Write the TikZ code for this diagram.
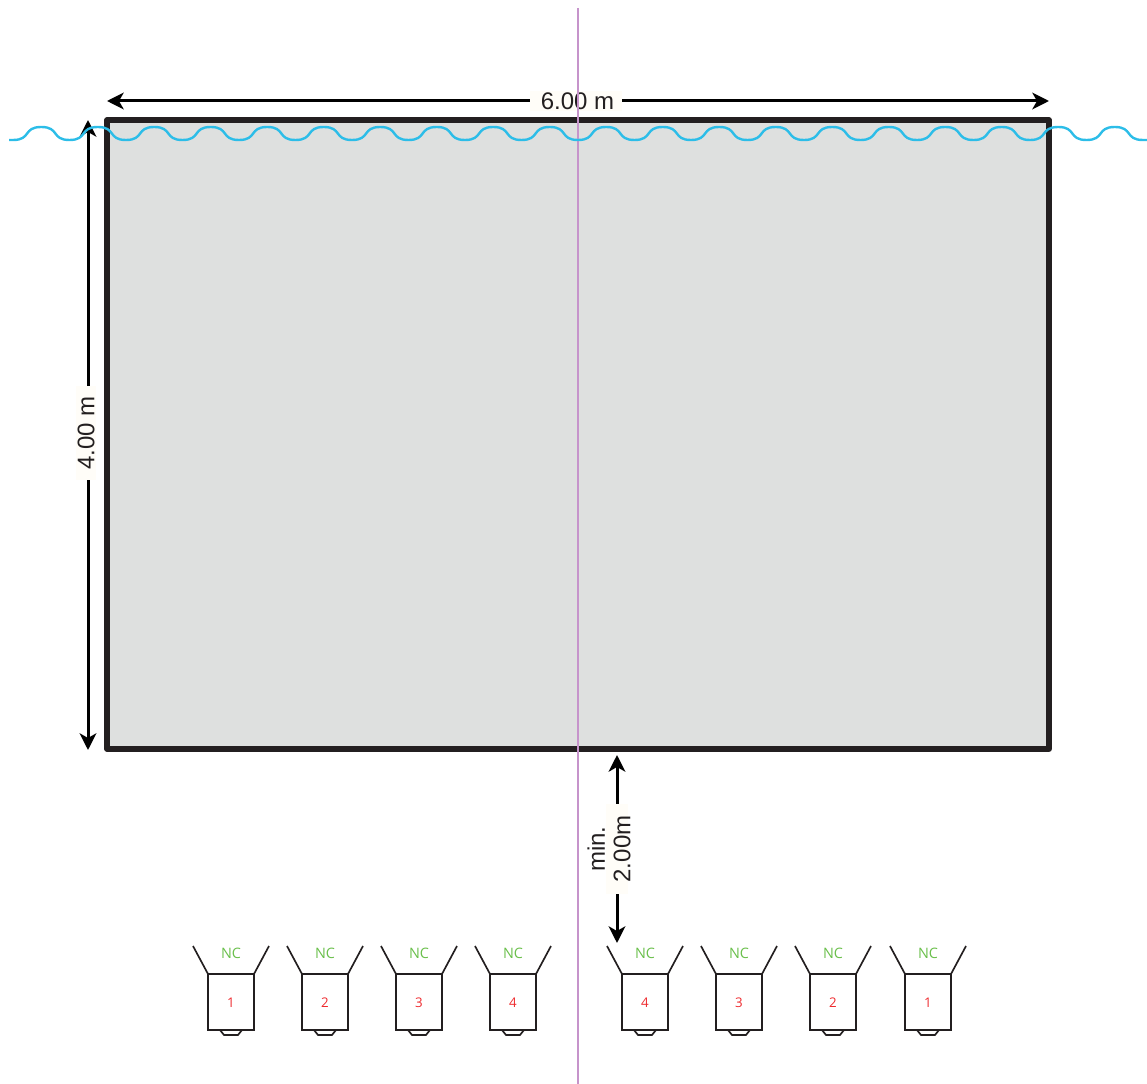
\documentclass[tikz,border=0pt]{standalone}
\usepackage{fontspec}
\setmainfont{Liberation Sans}
\newfontfamily\camfont{Open Sans}
\usetikzlibrary{arrows.meta}
\definecolor{wallc}{HTML}{231F20}
\definecolor{wallfill}{HTML}{DEE0DF}
\definecolor{wavec}{HTML}{2CBDE8}
\definecolor{centreline}{RGB}{198,148,203}
\definecolor{labelbg}{HTML}{FFFDF8}
\definecolor{ncc}{HTML}{6ABF4B}
\definecolor{numc}{HTML}{EE2A2E}
\tikzset{
  x=0.75pt,y=-0.75pt,
  wallbox/.style={draw=wallc,fill=wallfill,line width=3.8pt,line join=round,minimum width=706.5pt,minimum height=471.75pt,inner sep=0pt,outer sep=0pt,anchor=north west},
  dimline/.style={line width=2.25pt,black,{Stealth[length=12.5pt,width=12.5pt,inset=3.5pt]}-{Stealth[length=12.5pt,width=12.5pt,inset=3.5pt]}},
  dimlabel/.style={fill=labelbg,text=wallc,font=\fontsize{18}{19}\selectfont,inner sep=0pt,align=center},
  wavestyle/.style={draw=wavec,line width=1.8pt},
  axisstyle/.style={draw=centreline,line width=1.5pt},
  camline/.style={draw=wallc,line width=1.25pt,line join=miter,outer sep=0pt},
  nctext/.style={text=ncc,font=\camfont\fontsize{10.8}{12}\selectfont,inner sep=0pt},
  numtext/.style={text=numc,font=\camfont\fontsize{10}{12}\selectfont,inner sep=0pt},
}
\begin{document}
\begin{tikzpicture}
\useasboundingbox (0,0) rectangle (1147,1084);
\node[wallbox] (wall) at (107,120) {};
% dimension anchors
\coordinate (wL) at (107,101);
\coordinate (wR) at (1049,101);
\coordinate (hT) at (88,120);
\coordinate (hB) at (88,750);
\coordinate (mT) at (617,755);
\coordinate (mB) at (617,943);
\draw[dimline] (wL) -- (wR);
\node[dimlabel,minimum width=69pt,minimum height=15pt] (wbg) at (576,101) {};
\node[dimlabel,fill=none] (wlabel) at (577.5,101) {6.00 m};
\draw[dimline] (hT) -- (hB);
\node[dimlabel,rotate=90,minimum width=70pt,minimum height=15pt] (hlabel) at (86,433) {4.00 m};
\draw[dimline] (mT) -- (mB);
\node[fill=labelbg,minimum width=17pt,minimum height=68pt,inner sep=0pt] (mbg) at (617,849) {};
\node[dimlabel,fill=none,rotate=90] (mlabel) at (609,849) {min.\\2.00m};
% axis
\coordinate (aT) at (577.5,8);
\coordinate (aB) at (577.5,1084);
\draw[axisstyle] (aT) -- (aB);
% wave
\draw[wavestyle] (9,140) -- (13,140)
  \foreach \i in {0,...,19} {
    .. controls ({13+56.5*\i+18.5},140) and ({41.25+56.5*\i-18.5},127) .. ({41.25+56.5*\i},127)
    .. controls ({41.25+56.5*\i+18.5},127) and ({69.5+56.5*\i-18.5},140) .. ({69.5+56.5*\i},140)
  } -- (1147,140);
% cameras
\foreach \c/\n [count=\k] in {231/1,325/2,419/3,513/4,645/4,739/3,833/2,928/1} {
  \node[camline,minimum width=34.5pt,minimum height=42pt,inner sep=0pt] (cam\k) at (\c,1002) {};
  \node[numtext] (num\k) at (\c,1003) {\n};
  \node[nctext] (nc\k) at (\c,953) {NC};
  \draw[camline] (cam\k.north west) -- ++(-15,-28);
  \draw[camline] (cam\k.north east) -- ++(15,-28);
  \draw[camline] ([xshift=-8.25pt]cam\k.south) -- ++(4,5) -- ++(14,0) -- ++(4,-5);
}
\end{tikzpicture}
\end{document}
